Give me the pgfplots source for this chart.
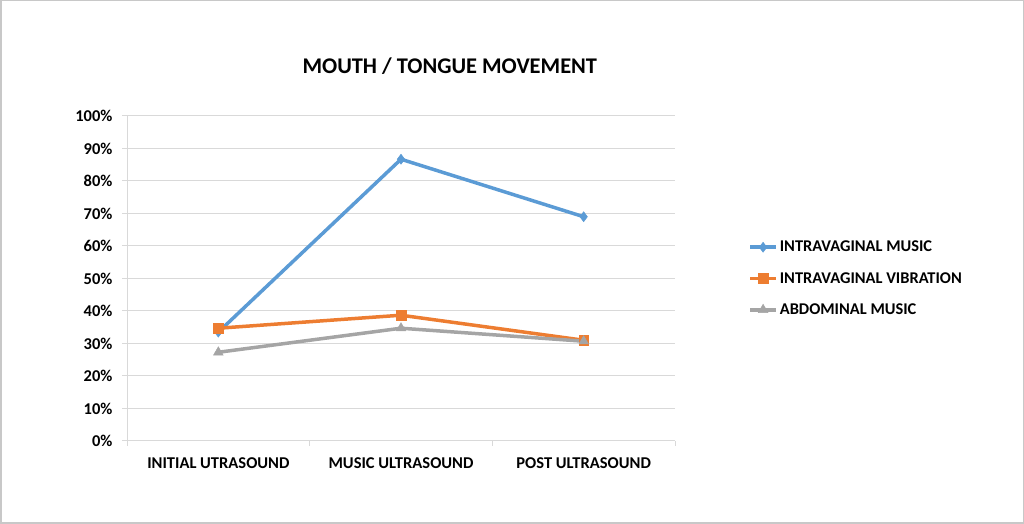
\documentclass[border=0pt]{standalone}
\usepackage{fontspec}
\setmainfont{Carlito}
\usepackage{pgfplots}
\pgfplotsset{compat=1.18}
\definecolor{sblue}{HTML}{5B9BD5}
\definecolor{sorange}{HTML}{ED7D31}
\definecolor{sgray}{HTML}{A5A5A5}
\definecolor{gridc}{HTML}{D9D9D9}
\definecolor{framec}{HTML}{C8C8C8}
\begin{document}
\begin{tikzpicture}[x=1pt,y=1pt]
\useasboundingbox (0,0) rectangle (1024,524);
\draw[framec, line width=1.5pt] (0.75,0.75) rectangle (1023.25,523.25);
\begin{axis}[
  at={(127pt,83pt)}, anchor=south west,
  scale only axis, width=548pt, height=325pt,
  xmin=-0.5, xmax=2.5, ymin=0, ymax=100,
  xtick={0,1,2},
  xticklabels={INITIAL UTRASOUND, MUSIC ULTRASOUND, POST ULTRASOUND},
  minor xtick={-0.5,0.5,1.5,2.5},
  ytick={0,10,...,100},
  yticklabel={\pgfmathprintnumber{\tick}\%},
  /pgf/number format/assume math mode=true,
  axis x line*=bottom, axis y line*=left,
  axis line style={draw=gridc, line width=1pt, -},
  ymajorgrids, grid style={gridc, line width=1pt},
  tick align=outside,
  major tick length=5pt, minor tick length=5pt,
  xtick style={draw=none},
  minor x tick style={draw=gridc, line width=1pt},
  ytick style={draw=gridc, line width=1pt},
  tick label style={font=\bfseries\fontsize{16.5}{19}\selectfont, text=black},
  xticklabel style={yshift=-8pt},
  yticklabel style={xshift=-6pt},
  title={MOUTH / TONGUE MOVEMENT},
  title style={at={(0.589,1.135)}, anchor=center, font=\bfseries\fontsize{22.4}{26}\selectfont},
  legend style={at={(1.128,0.5)}, anchor=west, draw=none, fill=none,
    row sep=15pt, font=\bfseries\fontsize{16.4}{19}\selectfont,
    /tikz/every even column/.append style={column sep=0pt},
    /tikz/every odd column/.append style={column sep=0pt}},
  legend cell align=left,
  legend image code/.code={\draw[mark repeat=2,mark phase=2] plot coordinates {(0pt,0pt)(13pt,0pt)(26pt,0pt)};},
]
\addplot[sblue, line width=3.5pt, mark=diamond*, mark size=5pt, mark options={solid, line width=0.5pt}]
  coordinates {(0,33.5) (1,86.7) (2,69.0)};
\addlegendentry{INTRAVAGINAL MUSIC}
\addplot[sorange, line width=3.5pt, mark=square*, mark size=4.8pt, mark options={solid, line width=0.5pt}]
  coordinates {(0,34.7) (1,38.7) (2,31.0)};
\addlegendentry{INTRAVAGINAL VIBRATION}
\addplot[sgray, line width=3.5pt, mark=triangle*, mark size=5.5pt, mark options={solid, line width=0.5pt}]
  coordinates {(0,27.3) (1,34.7) (2,30.7)};
\addlegendentry{ABDOMINAL MUSIC}
\end{axis}
\end{tikzpicture}
\end{document}
